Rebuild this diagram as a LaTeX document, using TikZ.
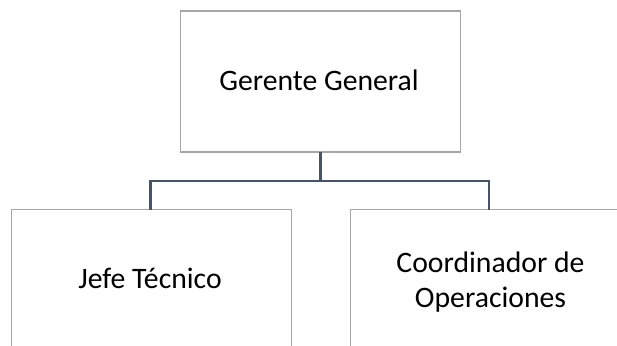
\documentclass[tikz,border=0pt]{standalone}
\usepackage{fontspec}
\setmainfont{Carlito}
\definecolor{boxline}{HTML}{A6A6A6}
\definecolor{conn}{HTML}{44546A}
\tikzset{
  orgbox/.style={draw=boxline, line width=1.3pt, fill=white, minimum width=280pt, minimum height=141pt, inner sep=0pt, outer sep=0pt, anchor=north west},
  orgtext/.style={font=\fontsize{29.7pt}{35pt}\selectfont, align=center, inner sep=0pt, text=black},
  link/.style={draw=conn, line width=2.6pt}
}
\begin{document}
\begin{tikzpicture}[x=1pt,y=-1pt]
\useasboundingbox (0,0) rectangle (617,345);
\clip (0,0) rectangle (617,345);
\node[orgbox] (top) at (180.5,11) {};
\node[orgbox] (left) at (11.5,209.5) {};
\node[orgbox] (right) at (350.5,209.5) {};
\coordinate (bar) at (320.5,181);
\coordinate (lstub) at (150.5,209.5);
\coordinate (rstub) at (489,209.5);
\draw[link] (top.south) -- (bar);
\draw[link] (lstub) |- (bar) -| (rstub);
\node[orgtext, anchor=base] (ttop) at (319,90) {Gerente General};
\node[orgtext, anchor=base] (tleft) at (150,288.5) {Jefe Técnico};
\node[orgtext] (tright) at (490.5,282) {Coordinador de\\Operaciones};
\end{tikzpicture}
\end{document}
